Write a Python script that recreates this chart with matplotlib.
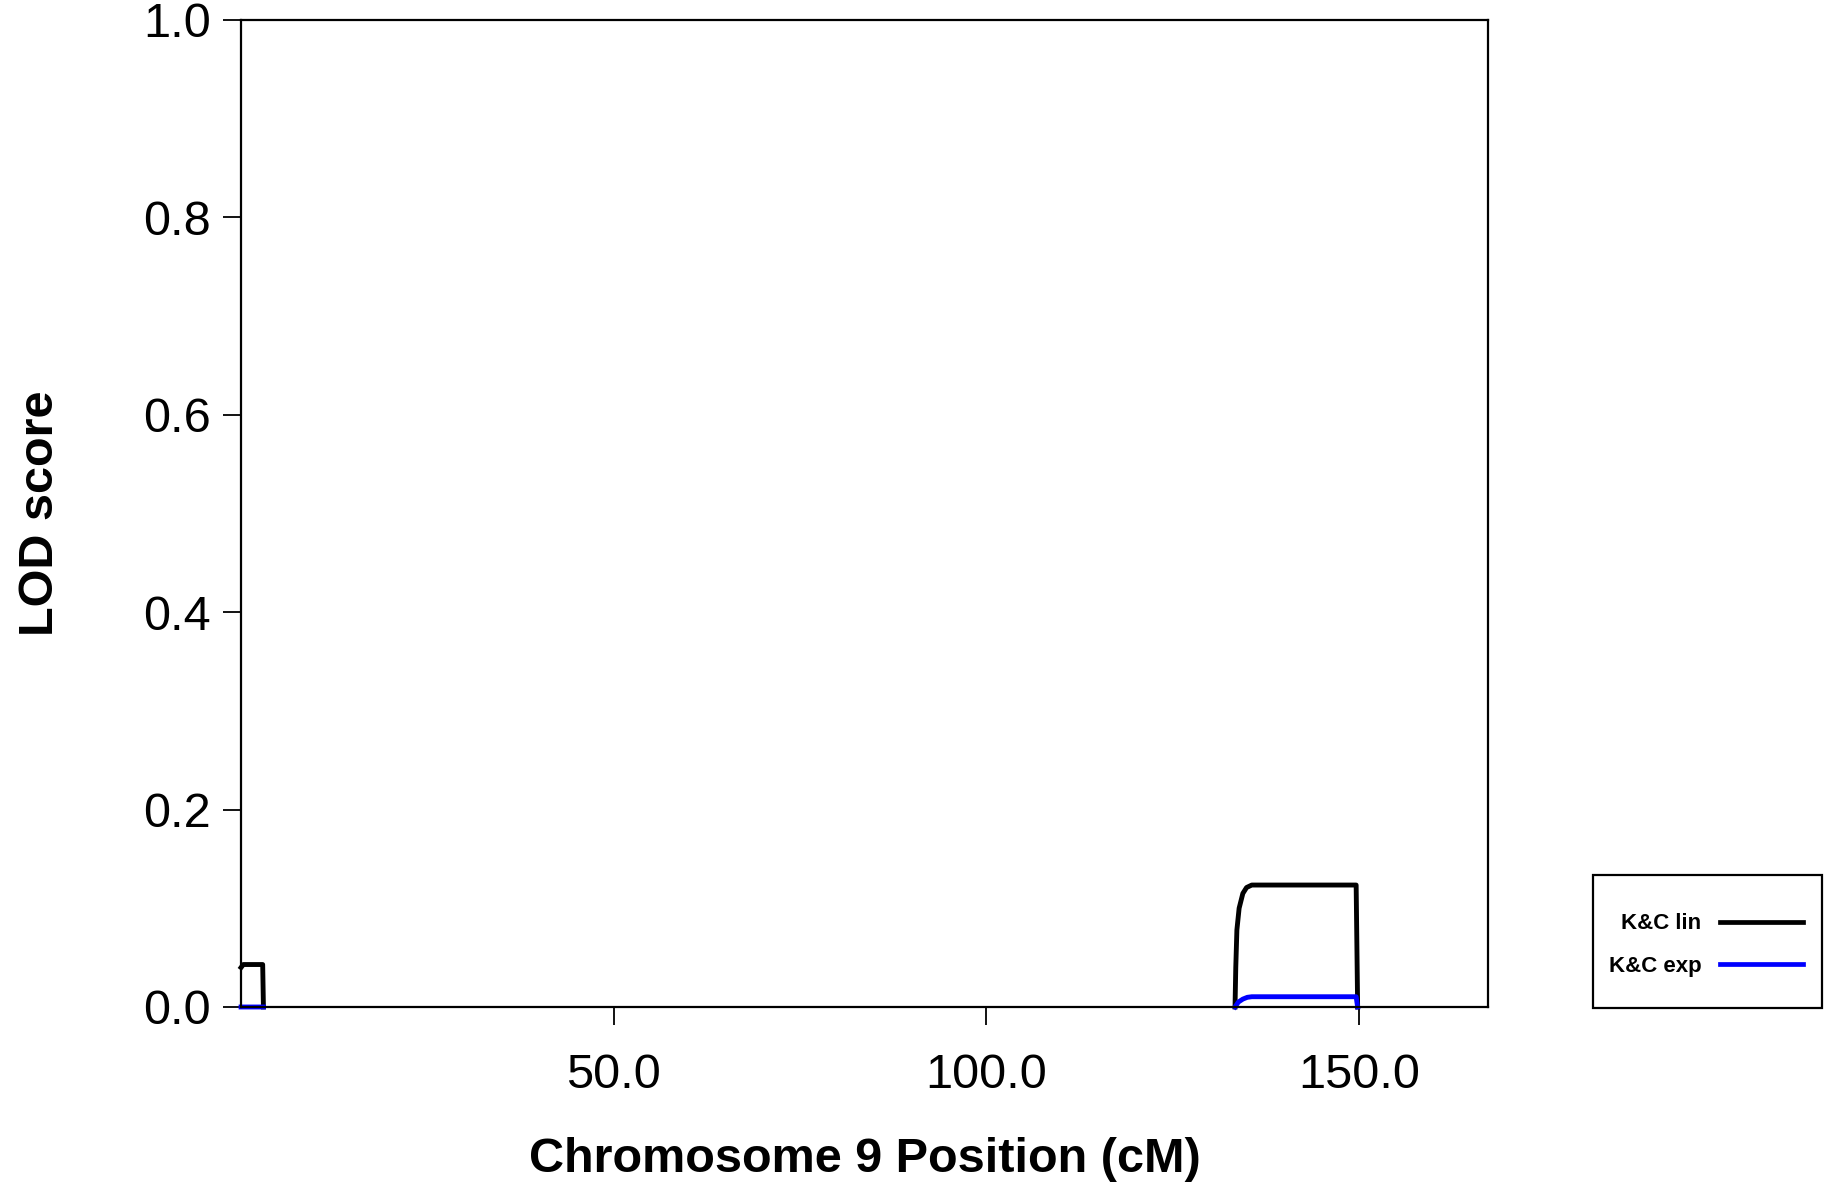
import numpy as np
import matplotlib
matplotlib.use('Agg')
import matplotlib.pyplot as plt
from matplotlib.patches import Rectangle

plt.rcParams['font.family'] = ['Liberation Sans', 'DejaVu Sans']

# LOD score profiles along chromosome 9 (NaN = no data)
lin_pos = [0.0, 0.3, 2.9, 3.0, np.nan,
           133.35, 133.45, 133.6, 133.9, 134.4, 134.9, 135.6, 149.6, 149.8]
lin_lod = [0.040, 0.043, 0.043, 0.0, np.nan,
           0.0, 0.040, 0.078, 0.100, 0.115, 0.121, 0.1235, 0.1235, 0.0]

exp_pos = [0.0, 3.0, np.nan,
           133.35, 133.8, 134.4, 135.0, 135.6, 149.6, 149.7, 149.8]
exp_lod = [0.0, 0.0, np.nan,
           0.0, 0.005, 0.008, 0.0098, 0.0104, 0.0104, 0.005, 0.0]

x_ticks = [50, 100, 150]
y_ticks = [0.0, 0.2, 0.4, 0.6, 0.8, 1.0]

fig = plt.figure(figsize=(18.36, 11.84), dpi=100)
ax = fig.add_axes([0.1313, 0.1495, 0.6792, 0.834])

ax.plot(lin_pos, lin_lod, color='black', lw=3.5, label='K&C lin', clip_on=False)
ax.plot(exp_pos, exp_lod, color='#0000ff', lw=3.5, label='K&C exp', clip_on=False)

ax.set_xlim(0, 167.3)
ax.set_ylim(0, 1.0)
ax.set_xticks(x_ticks)
ax.set_xticklabels([f'{v:.1f}' for v in x_ticks])
ax.set_yticks(y_ticks)
ax.set_yticklabels([f'{v:.1f}' for v in y_ticks])

for s in ax.spines.values():
    s.set_linewidth(1.6)
ax.tick_params(axis='y', direction='out', length=13, width=1.3, pad=9, labelsize=35)
ax.tick_params(axis='x', direction='out', length=13, width=1.3, pad=20, labelsize=35)

ax.set_xlabel('Chromosome 9 Position (cM)', fontsize=35, fontweight='bold')
ax.set_ylabel('LOD score', fontsize=35, fontweight='bold')
ax.xaxis.set_label_coords(0.5, -0.132)
ax.yaxis.set_label_coords(-0.1425, 0.5)

# legend: entries centred in a plain box to the right of the plot
leg = ax.legend(loc='center', bbox_to_anchor=(1706 / 1836, 1 - 945 / 1184),
                bbox_transform=fig.transFigure, markerfirst=False, frameon=False,
                prop={'size': 16, 'weight': 'bold'}, handlelength=3.75,
                handletextpad=0.85, labelspacing=0.95, borderpad=0,
                borderaxespad=0)
for line in leg.get_lines():
    line.set_linewidth(3.4)
fig.add_artist(Rectangle((1593 / 1836, 1 - 1008 / 1184), 229 / 1836, 133 / 1184,
                         transform=fig.transFigure, fill=False,
                         edgecolor='black', lw=1.6))

fig.savefig('out.png', dpi=100)
